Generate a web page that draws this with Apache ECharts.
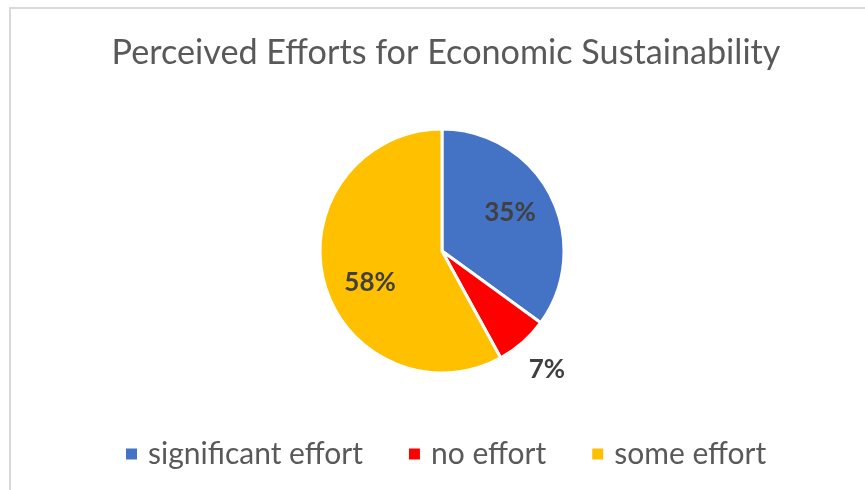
<!DOCTYPE html>
<html>
<head>
<meta charset="utf-8">
<script src="https://cdn.jsdelivr.net/npm/echarts@6/dist/echarts.min.js"></script>
<style>
  html, body { margin: 0; padding: 0; overflow: hidden; background: #fff; }
  /* the light grey chart-area frame, it runs off the right and bottom edges */
  #frame { position: absolute; left: 9px; top: 7px; width: 900px; height: 600px; border: 2px solid #d9d9d9; box-sizing: border-box; }
  #chart { position: absolute; left: 0; top: 0; width: 865px; height: 490px; }
</style>
</head>
<body>
<div id="frame"></div>
<div id="chart"></div>
<script>
const titleText = 'Perceived Efforts for Economic Sustainability';
const categories = ['significant effort', 'no effort', 'some effort'];
const shares = [35, 7, 58];
const colors = ['#4472C4', '#FF0000', '#FFC000'];
// label distance from centre, as a multiple of the default inside spot (half radius)
const labelReach = [1.22, 2.48, 1.23];
// small turn of each label around the centre, degrees (clockwise on screen)
const labelTurn = [-2.5, 0, -9.6];

const center = [442, 251];
const chart = echarts.init(document.getElementById('chart'));

chart.setOption({
  animation: false,
  title: {
    text: titleText,
    left: 441,
    top: 31,
    textAlign: 'center',
    textStyle: {
      fontFamily: 'Lato',
      fontSize: 34.2,
      fontWeight: 'normal',
      color: '#595959'
    }
  },
  legend: {
    data: categories,
    left: 124,
    top: 439,
    padding: 0,
    icon: 'rect',
    itemWidth: 13,
    itemHeight: 13,
    itemGap: 44,
    textStyle: {
      fontFamily: 'Lato',
      fontSize: 30,
      color: '#595959',
      padding: [0, 0, 0, 5]
    }
  },
  series: [
    {
      type: 'pie',
      center: center,
      radius: 122,
      startAngle: 90,
      clockwise: true,
      silent: true,
      itemStyle: {
        borderColor: '#fff',
        borderWidth: 3
      },
      label: {
        show: true,
        position: 'inside',
        formatter: p => p.value + '%',
        fontFamily: 'Lato',
        fontSize: 26,
        fontWeight: 'bold',
        color: '#404040'
      },
      labelLine: { show: false },
      // push each label out along (a slightly turned) ray from the centre
      labelLayout: function (p) {
        const r = p.labelRect;
        const vx = r.x + r.width / 2 - center[0];
        const vy = r.y + r.height / 2 - center[1];
        const k = labelReach[p.dataIndex];
        const a = labelTurn[p.dataIndex] * Math.PI / 180;
        const nx = (vx * Math.cos(a) - vy * Math.sin(a)) * k;
        const ny = (vx * Math.sin(a) + vy * Math.cos(a)) * k;
        return { dx: nx - vx, dy: ny - vy };
      },
      data: categories.map((name, i) => ({
        name: name,
        value: shares[i],
        itemStyle: { color: colors[i] }
      }))
    }
  ]
});
</script>
</body>
</html>
